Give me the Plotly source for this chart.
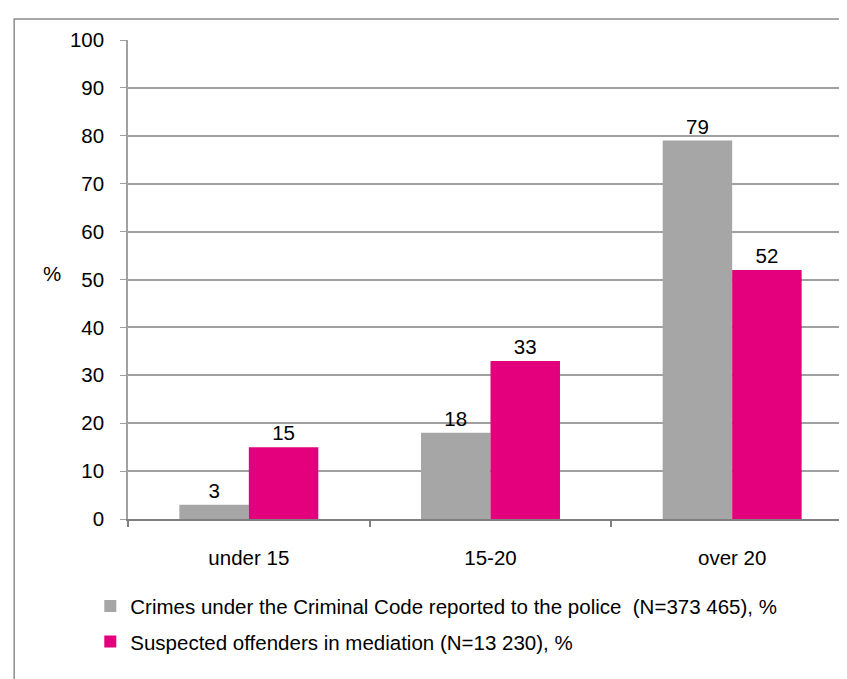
import plotly.graph_objects as go

categories = ["under 15", "15-20", "over 20"]
series_names = [
    "Crimes under the Criminal Code reported to the police\u00a0 (N=373 465), %",
    "Suspected offenders in mediation (N=13 230), %",
]
crimes = [3, 18, 79]
mediation = [15, 33, 52]
y_ticks = list(range(0, 101, 10))

GRAY = "#A6A6A6"
MAGENTA = "#E4007C"
FONT = "Liberation Sans, Arial, sans-serif"
FS = 20.5

fig = go.Figure()
fig.add_trace(go.Bar(x=categories, y=crimes, name=series_names[0], legendgroup="a",
                     marker=dict(color=GRAY, line=dict(width=0)),
                     text=crimes, textposition="outside", cliponaxis=False,
                     textfont=dict(size=FS, color="#000000", family=FONT)))
fig.add_trace(go.Bar(x=categories, y=mediation, name=series_names[1], legendgroup="b",
                     marker=dict(color=MAGENTA, line=dict(width=0)),
                     text=mediation, textposition="outside", cliponaxis=False,
                     textfont=dict(size=FS, color="#000000", family=FONT)))

# "%" axis label
fig.add_annotation(x=-0.12, y=50, yshift=6, xref="paper", yref="y", text="%",
                   showarrow=False, font=dict(size=FS, color="#000000", family=FONT))

# outer chart border
fig.add_shape(type="rect", xref="paper", yref="paper",
              x0=-0.157, x1=1.2, y0=-0.6, y1=1.0438,
              line=dict(color="#8C8C8C", width=1.5), fillcolor="rgba(0,0,0,0)",
              layer="below")

fig.update_layout(
    width=847, height=679,
    margin=dict(l=120, r=2, t=32, b=168),
    paper_bgcolor="white", plot_bgcolor="white",
    barmode="group", bargap=0.425, bargroupgap=0,
    uniformtext=dict(mode=False),
    font=dict(family=FONT, size=FS, color="#000000"),
    showlegend=True,
    legend=dict(x=-0.052, y=-0.14, xanchor="left", yanchor="top",
                orientation="v", font=dict(size=FS, family=FONT, color="#000000"),
                bgcolor="rgba(0,0,0,0)", itemwidth=30, tracegroupgap=6,
                traceorder="grouped"),
    xaxis=dict(showline=True, linecolor="#808080", linewidth=2,
               ticks="outside", tickson="boundaries", ticklen=6, tickcolor="#808080",
               tickwidth=1.5, showgrid=False, ticklabelstandoff=19,
               tickfont=dict(size=FS, family=FONT, color="#000000")),
    yaxis=dict(range=[0, 100], tickvals=y_ticks, showline=True, linecolor="#A0A0A0",
               linewidth=1.5, ticks="outside", ticklen=6, tickcolor="#A0A0A0",
               showgrid=True, gridcolor="#A0A0A0", gridwidth=1.5, zeroline=False,
               ticklabelstandoff=12,
               tickfont=dict(size=FS, family=FONT, color="#000000")),
)

fig.write_html("out.html")
